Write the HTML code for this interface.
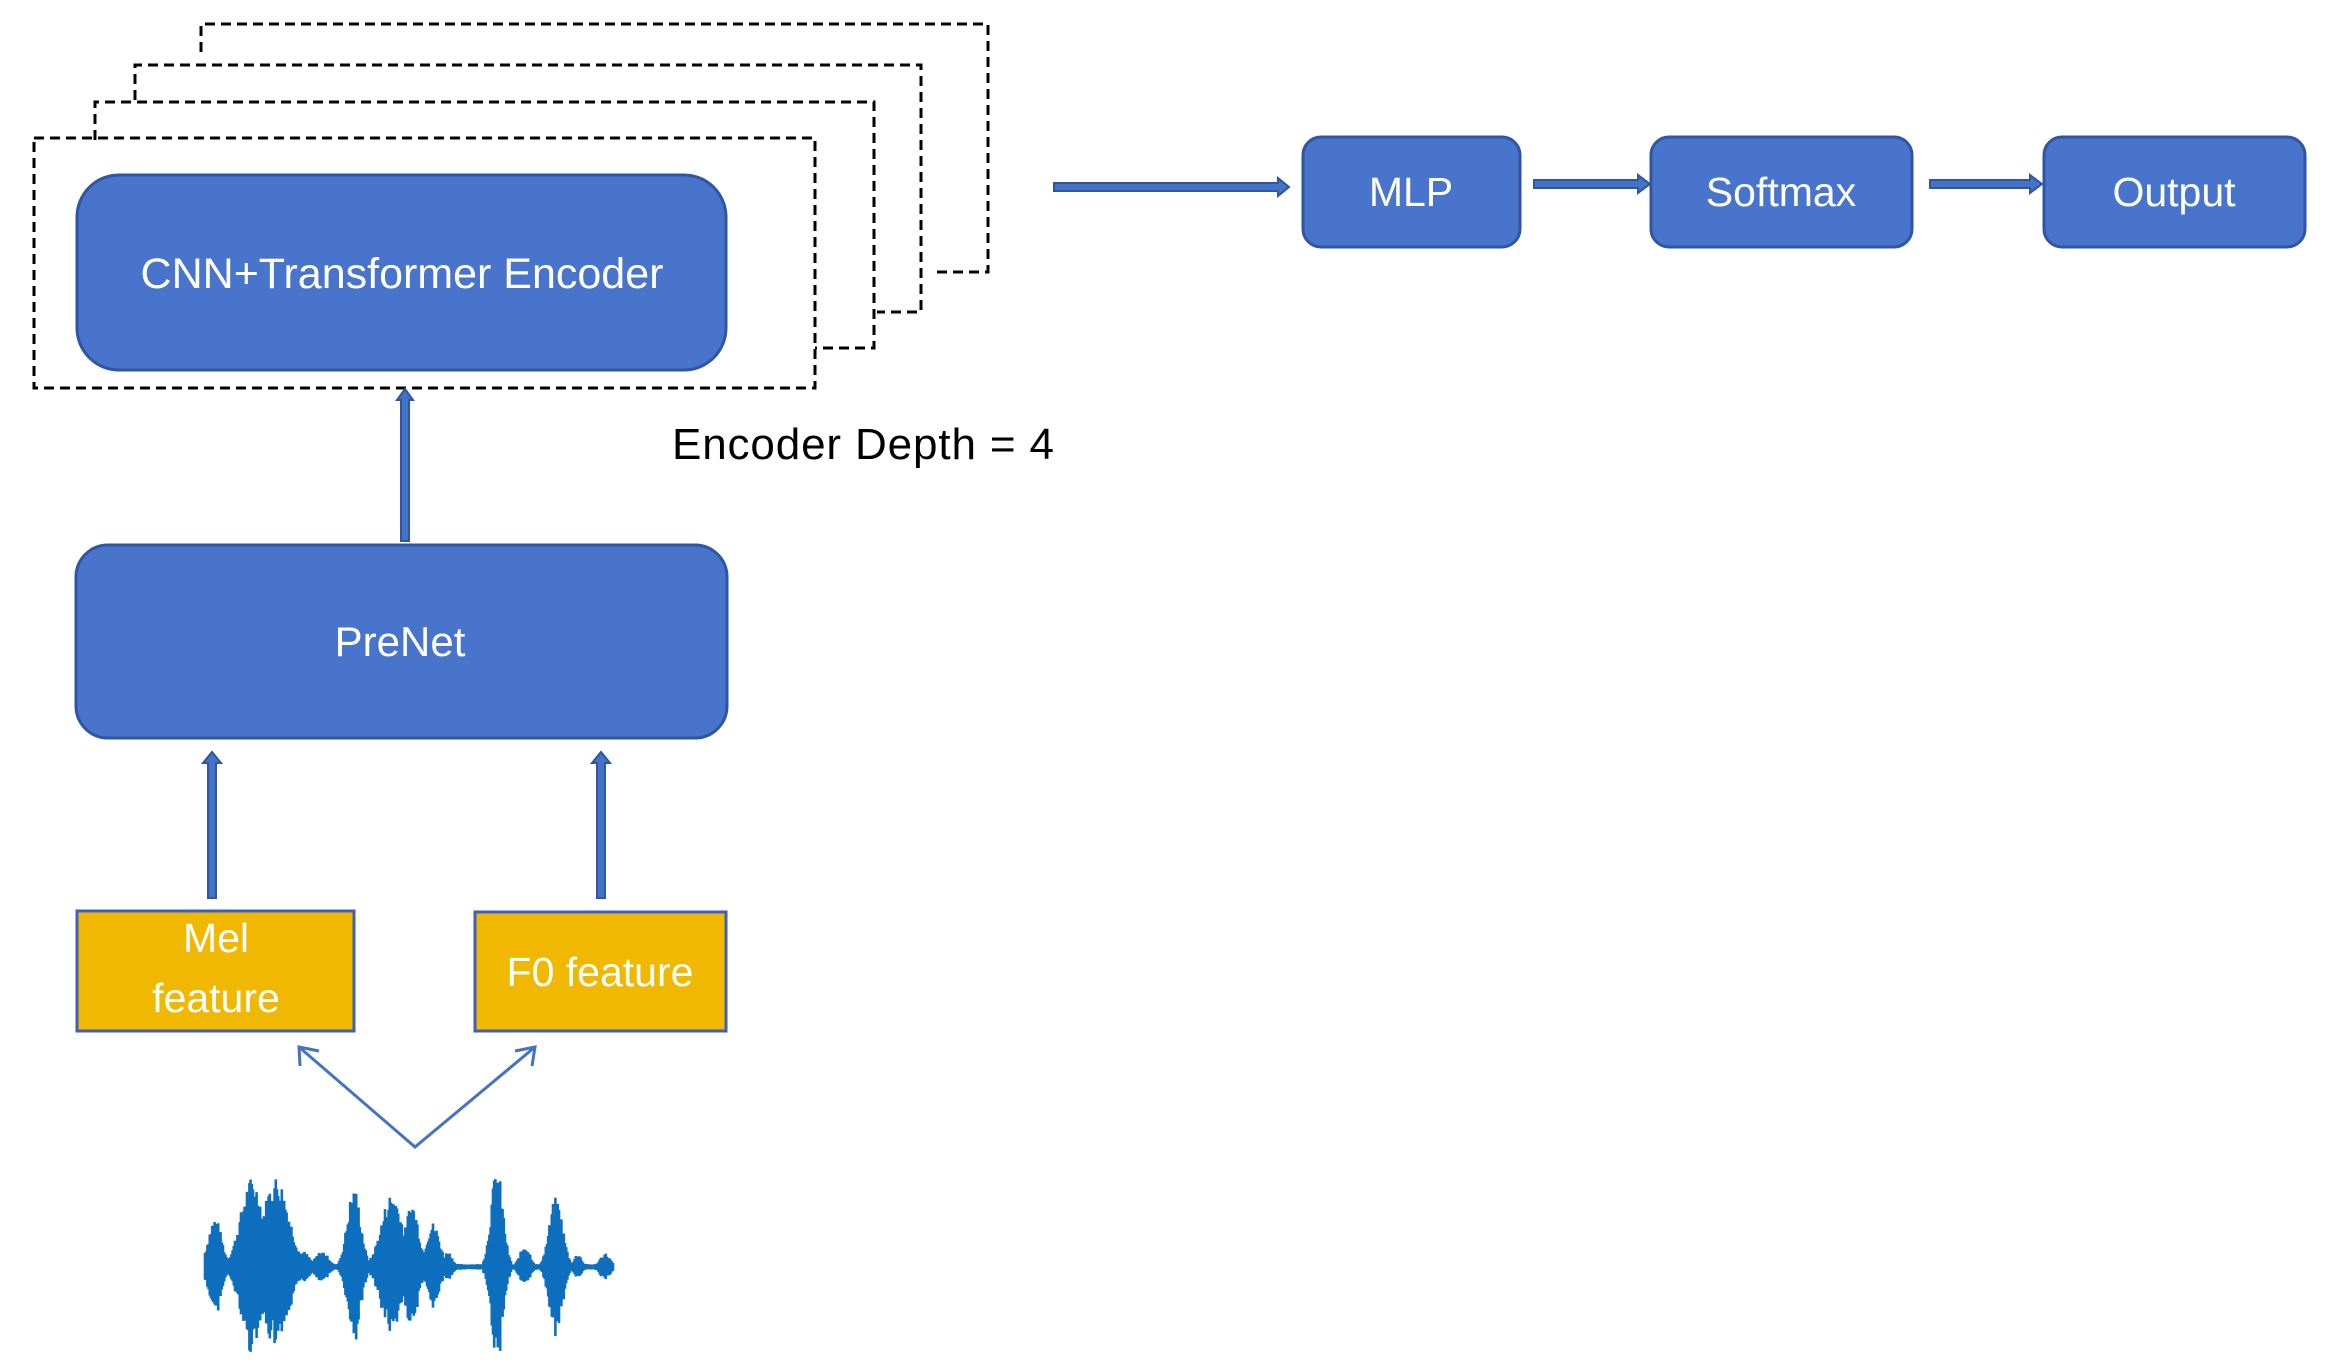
<!DOCTYPE html>
<html><head><meta charset="utf-8"><style>
html,body{margin:0;padding:0;background:#fff;}
svg{display:block}
text{font-family:"Liberation Sans",sans-serif;}
</style></head><body>
<svg id="s" width="2330" height="1370" viewBox="0 0 2330 1370" xmlns="http://www.w3.org/2000/svg">
<g fill="none" stroke="#000" stroke-width="3" stroke-dasharray="10,6">
<polyline points="201,52 201,24 988,24 988,272 933,272"/>
<polyline points="135,100 135,65 921,65 921,312 877,312"/>
<polyline points="95,140 95,102 874,102 874,348 815,348"/>
<rect x="34" y="138" width="781" height="250"/>
</g>
<rect x="77" y="175" width="649" height="195" rx="42" fill="#4874CB" stroke="#2F55A4" stroke-width="3"/>
<text x="402" y="288" font-size="43" fill="#fff" text-anchor="middle">CNN+Transformer Encoder</text>
<text x="672" y="459" font-size="44" fill="#000" textLength="382">Encoder Depth = 4</text>

<rect x="76" y="545" width="651" height="193" rx="32" fill="#4874CB" stroke="#2F55A4" stroke-width="3"/>
<text x="400" y="656" font-size="42" fill="#fff" text-anchor="middle">PreNet</text>

<g fill="#4472C4" stroke="#2F55A4" stroke-width="2">
<polygon points="401,541 401,400 397,400 405,389 413,400 409,400 409,541"/>
<polygon points="208,898 208,763 203,763 212,752 221,763 216,763 216,898"/>
<polygon points="597,898 597,763 592,763 601,752 610,763 605,763 605,898"/>
<polygon points="1054,183 1278,183 1278,178 1289,187 1278,196 1278,191 1054,191"/>
<polygon points="1534,180 1638,180 1638,175 1650,184 1638,193 1638,188 1534,188"/>
<polygon points="1930,180 2030,180 2030,175 2042,184 2030,193 2030,188 1930,188"/>
</g>

<rect x="1303" y="137" width="217" height="110" rx="18" fill="#4874CB" stroke="#2F55A4" stroke-width="3"/>
<text x="1411" y="206" font-size="41" fill="#fff" text-anchor="middle">MLP</text>
<rect x="1651" y="137" width="261" height="110" rx="18" fill="#4874CB" stroke="#2F55A4" stroke-width="3"/>
<text x="1781" y="206" font-size="41" fill="#fff" text-anchor="middle">Softmax</text>
<rect x="2044" y="137" width="261" height="110" rx="18" fill="#4874CB" stroke="#2F55A4" stroke-width="3"/>
<text x="2174" y="206" font-size="41" fill="#fff" text-anchor="middle">Output</text>

<rect x="77" y="911" width="277" height="120" fill="#F0B800" stroke="#3F5FB8" stroke-width="3"/>
<text x="216" y="952" font-size="41" fill="#fff" text-anchor="middle">Mel</text>
<text x="216" y="1012" font-size="41" fill="#fff" text-anchor="middle">feature</text>
<rect x="475" y="912" width="251" height="119" fill="#F0B800" stroke="#3F5FB8" stroke-width="3"/>
<text x="600" y="986" font-size="41" fill="#fff" text-anchor="middle">F0 feature</text>

<g stroke="#4472C4" stroke-width="3" fill="none">
<polyline points="299,1047 415,1147 535,1047"/>
<polyline points="300,1066 299,1047 319,1051"/>
<polyline points="515,1051 535,1047 532,1066"/>
</g>
<g id="wave" stroke="#0E6FBE" stroke-width="2.6"></g>
</svg>
<script>
var g=document.getElementById('wave');var cy=1267;
var blobs=[[215,9,50],[252,15,90],[276,17,92],[303,9,16],[322,9,16],[354,9,80],[392,14,75],[412,9,65],[433,9,45],[448,6,16],[497,8,100],[525,7,22],[556,9,70],[578,5,14],[605,7,14]];
var seed=7;function r(){seed=(seed*9301+49297)%233280;return seed/233280;}
var h='';
for(var x=205;x<=614;x+=1.2){var a=3;for(var i=0;i<blobs.length;i++){var b=blobs[i];var d=(x-b[0])/b[1];if(Math.abs(d)<1.8){var v=b[2]*Math.exp(-d*d*0.9);if(v>a)a=v;}}
a=a*(0.7+0.3*r());h+='<line x1="'+x+'" y1="'+(cy-a)+'" x2="'+x+'" y2="'+(cy+a*(0.8+0.2*r()))+'"/>';}
g.innerHTML=h;
</script>
</body></html>
